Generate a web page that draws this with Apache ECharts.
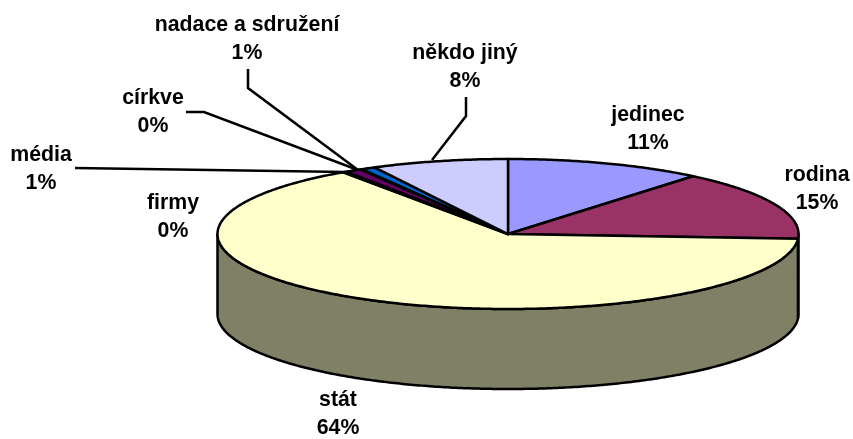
<!DOCTYPE html>
<html>
<head>
<meta charset="utf-8">
<script src="https://cdn.jsdelivr.net/npm/echarts@6/dist/echarts.min.js"></script>
<style>
  html, body { margin: 0; padding: 0; background: #fff; }
  #chart { width: 853px; height: 439px; }
</style>
</head>
<body>
<div id="chart"></div>
<script>
// clockwise from 12 o'clock
const categories = ['jedinec', 'rodina', 'stát', 'firmy', 'média', 'církve', 'nadace a sdružení', 'někdo jiný']
const shares = [11, 15, 64.4, 0.2, 0.9, 0.1, 0.8, 7.6]
const percentLabels = ['11%', '15%', '64%', '0%', '1%', '0%', '1%', '8%']

const colors = ['#9999ff', '#993366', '#ffffcc', '#ccffff', '#660066', '#ff8080', '#0066cc', '#ccccff']
const wallColors = ['#4d4d80', '#4d1a33', '#808066', '#668080', '#330033', '#804040', '#003366', '#666680']

// tilted pie geometry
const cx = 508, cy = 234, rx = 290.5, ry = 75, depth = 80

// label centres and leader lines, by category
const labelPos = [[648, 129], [817, 189], [338, 414], [173, 217], [41, 169], [153, 112], [247, 39], [465, 67]]
const leaders = {
  4: [[75, 168], [345, 172]],
  5: [[186, 112], [204, 112], [358, 170]],
  6: [[248, 69], [248, 88], [358, 170]],
  7: [[466, 97], [466, 116], [432, 160]],
}

const total = shares.reduce((a, b) => a + b, 0)
const starts = []
shares.reduce((sum, v, i) => { starts[i] = sum; return sum + v }, 0)

const toAngle = (v) => (v / total) * Math.PI * 2
const rim = (t, dy = 0) => [cx + rx * Math.sin(t), cy - ry * Math.cos(t) + dy]

function arc(t0, t1, dy) {
  const n = Math.max(2, Math.ceil((t1 - t0) / 0.01))
  const pts = []
  for (let i = 0; i <= n; i++) pts.push(rim(t0 + ((t1 - t0) * i) / n, dy))
  return pts
}

const seriesData = shares.map((v, i) => [i, v])

function renderWall(params, api) {
  const i = api.value(0)
  // only the front half of the rim is visible
  const t0 = Math.max(toAngle(starts[i]), Math.PI / 2)
  const t1 = Math.min(toAngle(starts[i] + shares[i]), Math.PI * 1.5)
  if (t1 <= t0) return null
  return {
    type: 'polygon',
    shape: { points: arc(t0, t1, 0).concat(arc(t0, t1, depth).reverse()) },
    style: { fill: wallColors[i], stroke: '#000', lineWidth: 2.5, lineJoin: 'round' },
  }
}

function renderTop(params, api) {
  const i = api.value(0)
  const t0 = toAngle(starts[i])
  const t1 = toAngle(starts[i] + api.value(1))
  return {
    type: 'polygon',
    shape: { points: [[cx, cy]].concat(arc(t0, t1, 0)) },
    style: { fill: colors[i], stroke: '#000', lineWidth: 2.5, lineJoin: 'round' },
  }
}

function renderLabel(params, api) {
  const i = api.value(0)
  const children = []
  if (leaders[i]) {
    children.push({
      type: 'polyline',
      shape: { points: leaders[i] },
      style: { fill: 'none', stroke: '#000', lineWidth: 2.5 },
    })
  }
  children.push({
    type: 'text',
    x: labelPos[i][0],
    y: labelPos[i][1],
    style: {
      text: categories[i] + '\n' + percentLabels[i],
      fill: '#000',
      font: 'bold 21.3px "Liberation Sans", Arial, sans-serif',
      lineHeight: 28,
      align: 'center',
      verticalAlign: 'middle',
    },
  })
  return { type: 'group', children }
}

const chart = echarts.init(document.getElementById('chart'), undefined, { renderer: 'canvas' })
chart.setOption({
  animation: false,
  backgroundColor: '#fff',
  series: [
    { type: 'custom', coordinateSystem: 'none', silent: true, z: 1, data: seriesData, renderItem: renderWall },
    { type: 'custom', coordinateSystem: 'none', silent: true, z: 2, data: seriesData, renderItem: renderTop },
    { type: 'custom', coordinateSystem: 'none', silent: true, z: 3, data: seriesData, renderItem: renderLabel },
  ],
})
</script>
</body>
</html>
